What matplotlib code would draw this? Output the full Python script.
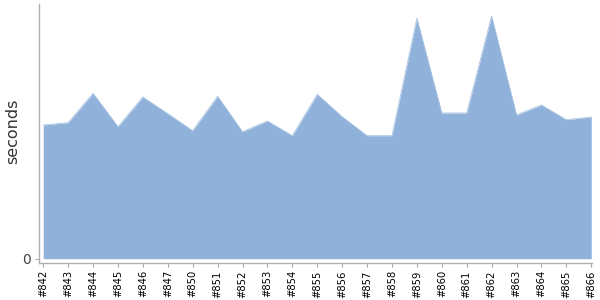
import matplotlib
matplotlib.use("Agg")
import matplotlib.pyplot as plt

# build labels and durations
builds = ["#842", "#843", "#844", "#845", "#846", "#847", "#850", "#851",
          "#852", "#853", "#854", "#855", "#856", "#857", "#858", "#859",
          "#860", "#861", "#862", "#863", "#864", "#865", "#866"]
seconds = [133.7, 136.0, 165.4, 132.0, 161.7, 145.0, 128.0, 162.4,
           127.0, 137.7, 123.0, 164.4, 142.0, 123.0, 123.0, 240.4,
           145.7, 145.7, 242.7, 143.7, 153.7, 139.0, 141.7]

fig = plt.figure(figsize=(6, 3), dpi=100)
ax = fig.add_axes([39.5 / 600, 1 - 263.3 / 300, (592 - 39.5) / 600, (263.3 - 4) / 300])

x = list(range(len(builds)))
ax.fill_between(x, 0, seconds, color="#8fb1da", linewidth=0)
ax.plot(x, seconds, color="#a9c3e3", linewidth=0.6)

ax.set_xlim(-0.15, len(builds) - 1 + 0.03)
ax.set_ylim(-4.6, 254.7)

ax.set_xticks(x)
ax.set_xticklabels(builds, rotation=90, fontsize=7.2, color="black")
ax.set_yticks([0])
ax.set_yticklabels(["0"], fontsize=10, color="#444444")
ax.tick_params(axis="x", length=3, width=0.8, color="#aaaaaa", pad=2)
ax.tick_params(axis="y", length=3, width=0.8, color="#aaaaaa", pad=3)

for side in ["top", "right"]:
    ax.spines[side].set_visible(False)
for side in ["left", "bottom"]:
    ax.spines[side].set_color("#b0b0b0")
    ax.spines[side].set_linewidth(1)

fig.text(13 / 600, 1 - 131 / 300, "seconds", rotation=90, fontsize=11.5,
         color="#333333", ha="center", va="center")

fig.savefig("out.png", dpi=100)
